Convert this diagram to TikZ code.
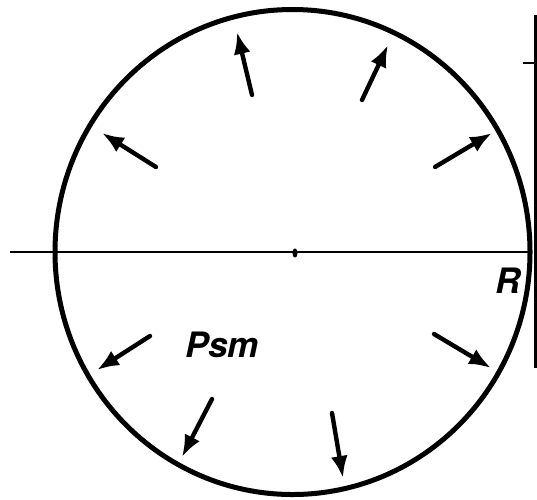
\documentclass[tikz,border=0pt]{standalone}
\usepackage{fontspec}
\setsansfont{TeX Gyre Heros}
\usepackage{tikz}
\usetikzlibrary{arrows.meta,positioning}

\begin{document}
\begin{tikzpicture}[x=1pt, y=-1pt]
    \tikzstyle{rim} = [line width=5pt]
    \tikzstyle{axis} = [line width=2.2pt]
    \tikzstyle{parrow} = [line width=4.4pt, line cap=round, -{Latex[length=22pt, width=17pt]}]
    \tikzstyle{plabel} = [font=\fontsize{35}{35}\selectfont\sffamily\bfseries\itshape, inner sep=0pt]

    \useasboundingbox (0,0) rectangle (537,499);

    % vessel wall and axis
    \draw[rim] (292.5,252) ellipse [x radius=237.5, y radius=242.5];
    \draw[axis] (10,252) -- (532,252);
    \fill (295,253) ellipse [x radius=2.6, y radius=4.6];

    % edge of neighbouring figure
    \draw[line width=2.6pt] (535.5,15) -- (535.5,368);
    \draw[line width=2pt] (523,63) -- (535.5,63);

    % pressure arrows
    \foreach \i/\tx/\ty/\hx/\hy in {1/252/95/237/32, 2/362/100/388/45,
        3/156/167/102/133, 4/435/167/492/133, 5/150/336/97/370,
        6/434/334/491/368, 7/212/399/182/457, 8/332/413/343/478} {
        \coordinate (t\i) at (\tx,\ty);
        \coordinate (h\i) at (\hx,\hy);
        \draw[parrow] (t\i) -- (h\i);
    }

    \node[plabel] (psm) at (222,345) {Psm};
    \node[plabel] (rad) at (508,281) {R};
\end{tikzpicture}
\end{document}
